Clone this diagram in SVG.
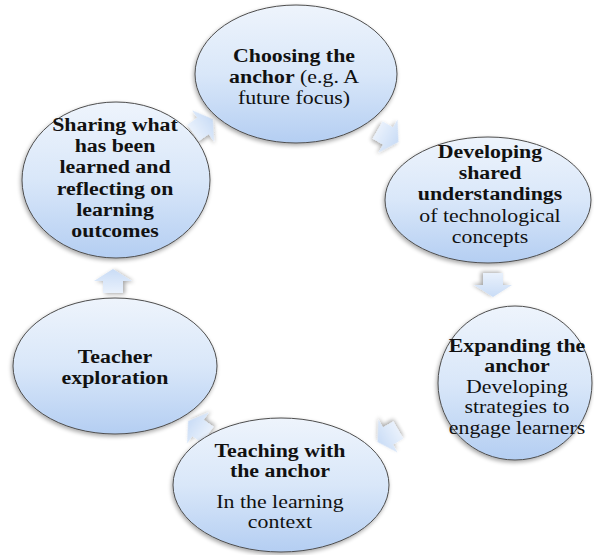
<svg xmlns="http://www.w3.org/2000/svg" width="594" height="555" viewBox="0 0 594 555">
  <defs>
    <linearGradient id="nodeFill" x1="0" y1="0" x2="0" y2="1">
      <stop offset="0" stop-color="#eef4fc"/>
      <stop offset="0.5" stop-color="#d9e7f9"/>
      <stop offset="1" stop-color="#b4cef2"/>
    </linearGradient>
    <linearGradient id="arrowFill" x1="0" y1="0" x2="1" y2="0">
      <stop offset="0" stop-color="#e9f1fc"/>
      <stop offset="1" stop-color="#c9dcf6"/>
    </linearGradient>
    <filter id="shadow" x="-20%" y="-20%" width="140%" height="140%">
      <feGaussianBlur in="SourceAlpha" stdDeviation="2"/>
      <feOffset dx="-1" dy="2" result="b"/>
      <feComponentTransfer><feFuncA type="linear" slope="0.35"/></feComponentTransfer>
      <feMerge><feMergeNode/><feMergeNode in="SourceGraphic"/></feMerge>
    </filter>
    <path id="arrow" d="M-12,-10 L0,-10 L0,-19 L12,0 L0,19 L0,10 L-12,10 Z"/>
  </defs>
  <style>
    .node { fill: url(#nodeFill); stroke: #4d4d4d; stroke-width: 1; filter: url(#shadow); }
    .arr { fill: url(#arrowFill); filter: url(#shadow); }
    text { font-family: "Liberation Serif", "Times New Roman", serif; font-size: 19px; fill: #111; text-anchor: middle; }
    .b { font-weight: bold; }
  </style>

  <g id="connectors">
    <use href="#arrow" class="arr" transform="translate(388,136) rotate(30)"/>
    <use href="#arrow" class="arr" transform="translate(493,285) rotate(90)"/>
    <use href="#arrow" class="arr" transform="translate(388,436) rotate(150)"/>
    <use href="#arrow" class="arr" transform="translate(198,428) rotate(215)"/>
    <use href="#arrow" class="arr" transform="translate(113,281) rotate(270)"/>
    <use href="#arrow" class="arr" transform="translate(203,126) rotate(-35)"/>
  </g>

  <g id="node-choosing">
    <ellipse class="node" cx="296" cy="74" rx="101" ry="69"/>
    <g transform="translate(294,0) scale(1.15,1)">
      <text x="0" y="62" class="b">Choosing the</text>
      <text x="0" y="83"><tspan class="b">anchor</tspan> (e.g. A</text>
      <text x="0" y="104">future focus)</text>
    </g>
  </g>

  <g id="node-developing">
    <ellipse class="node" cx="488" cy="200" rx="103" ry="63"/>
    <g transform="translate(490,0) scale(1.15,1)">
      <text x="0" y="158" class="b">Developing</text>
      <text x="0" y="179" class="b">shared</text>
      <text x="0" y="200" class="b">understandings</text>
      <text x="0" y="222">of technological</text>
      <text x="0" y="243">concepts</text>
    </g>
  </g>

  <g id="node-expanding">
    <ellipse class="node" cx="515" cy="383" rx="77" ry="77"/>
    <g transform="translate(517,0) scale(1.15,1)">
      <text x="0" y="352" class="b">Expanding the</text>
      <text x="0" y="372.5" class="b">anchor</text>
      <text x="0" y="393">Developing</text>
      <text x="0" y="413.5">strategies to</text>
      <text x="0" y="434">engage learners</text>
    </g>
  </g>

  <g id="node-teaching">
    <ellipse class="node" cx="281" cy="485" rx="108" ry="67"/>
    <g transform="translate(280,0) scale(1.15,1)">
      <text x="0" y="457" class="b">Teaching with</text>
      <text x="0" y="477" class="b">the anchor</text>
      <text x="0" y="508">In the learning</text>
      <text x="0" y="528">context</text>
    </g>
  </g>

  <g id="node-teacher-exploration">
    <ellipse class="node" cx="115" cy="366" rx="102" ry="68"/>
    <g transform="translate(115,0) scale(1.15,1)">
      <text x="0" y="363" class="b">Teacher</text>
      <text x="0" y="384" class="b">exploration</text>
    </g>
  </g>

  <g id="node-sharing">
    <ellipse class="node" cx="116" cy="180" rx="94" ry="78"/>
    <g transform="translate(115,0) scale(1.15,1)">
      <text x="0" y="131" class="b">Sharing what</text>
      <text x="0" y="152" class="b">has been</text>
      <text x="0" y="173.5" class="b">learned and</text>
      <text x="0" y="195" class="b">reflecting on</text>
      <text x="0" y="216" class="b">learning</text>
      <text x="0" y="237" class="b">outcomes</text>
    </g>
  </g>
</svg>
